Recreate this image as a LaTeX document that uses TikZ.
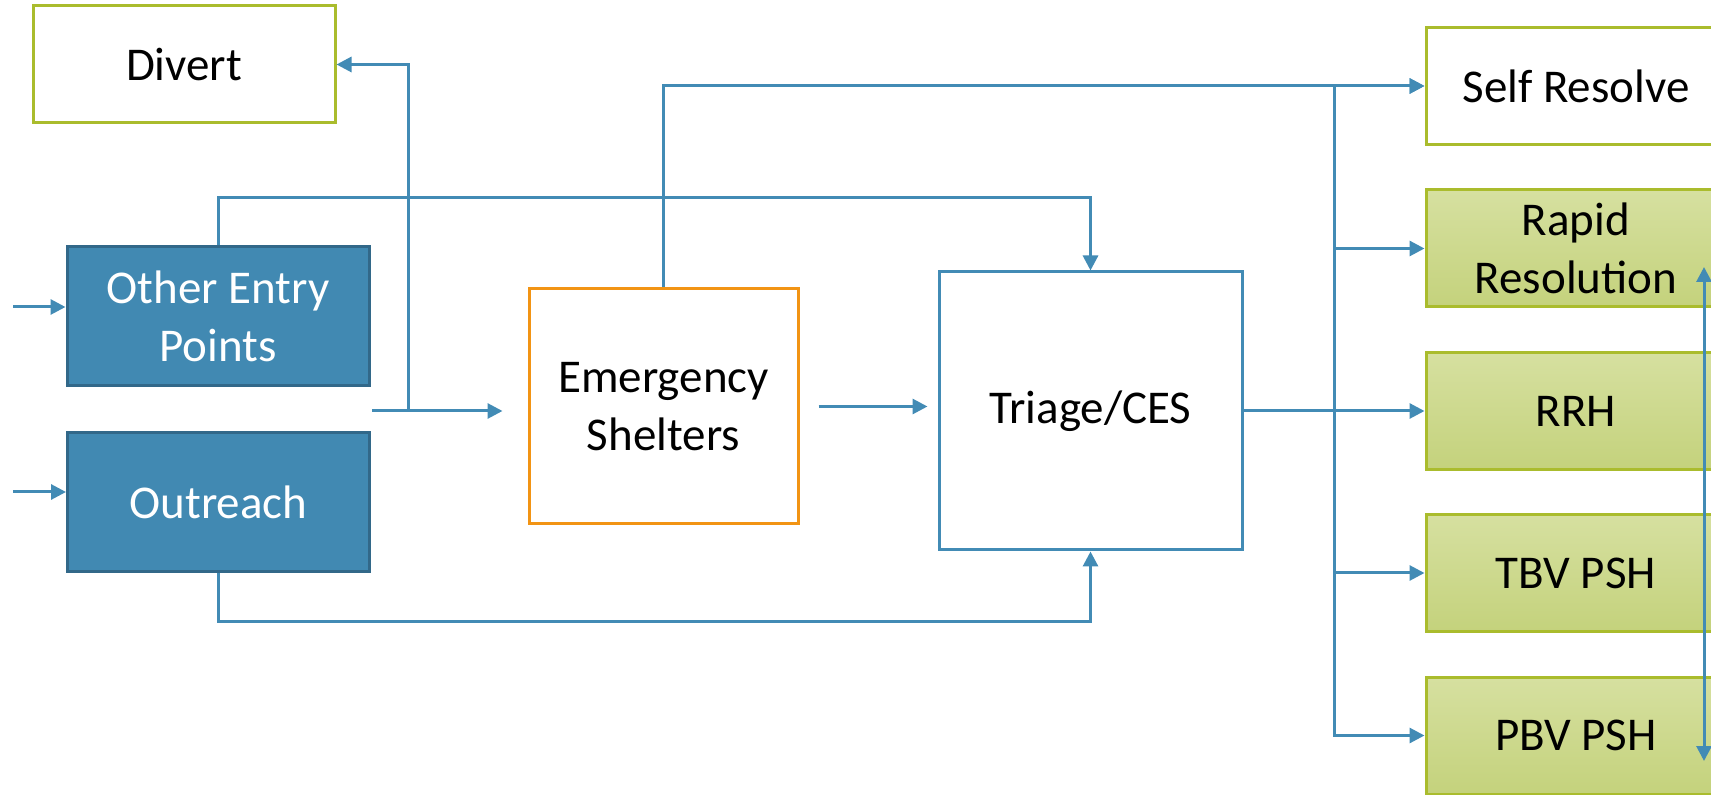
\documentclass[tikz,border=0pt]{standalone}
\usepackage{fontspec}
\setmainfont{Carlito}
\usetikzlibrary{arrows.meta}
\definecolor{flowblue}{RGB}{66,139,181}
\definecolor{entryblue}{RGB}{65,137,178}
\definecolor{entryedge}{RGB}{50,104,137}
\definecolor{leafedge}{RGB}{170,188,45}
\definecolor{leaftop}{RGB}{214,224,160}
\definecolor{leafbot}{RGB}{196,210,124}
\definecolor{shelter}{RGB}{242,148,20}

\begin{document}
\begin{tikzpicture}[x=0.5pt, y=-0.5pt, >={Triangle[length=7.5pt,width=7.5pt]},
  font=\fontsize{23.5}{29}\selectfont,
  box/.style={draw, line width=1.5pt, align=center, inner sep=0pt,
    minimum width=151pt, minimum height=58.5pt},
  entry/.style={box, fill=entryblue, draw=entryedge, text=white, minimum height=69.5pt},
  exit/.style={box, draw=leafedge},
  service/.style={box, draw=leafedge, top color=leaftop, bottom color=leafbot,
    minimum width=150pt},
  flow/.style={draw=flowblue, line width=1.5pt}]
  \path[use as bounding box, clip] (0,0) rectangle (1711,795);
  % front door and first stops
  \node[exit] (divert) at (184,64.5) {Divert};
  \node[entry] (oep) at (218,316.5) {Other Entry\\Points};
  \node[entry] (outreach) at (218.5,502.5) {Outreach};
  \node[box, draw=shelter, minimum width=134.5pt, minimum height=117.5pt] (es) at (663.5,406.5) {Emergency\\Shelters};
  \node[box, draw=flowblue, minimum width=151.5pt, minimum height=139pt] (triage) at (1090.5,411) {Triage/CES};
  % housing outcomes
  \node[exit, minimum width=150pt] (self) at (1576,86) {Self Resolve};
  \node[service] (rapid) at (1576,248.5) {Rapid\\Resolution};
  \node[service] (rrh) at (1576,411) {RRH};
  \node[service] (tbv) at (1576,573) {TBV PSH};
  \node[service] (pbv) at (1576,735.5) {PBV PSH};
  % entry feeds
  \coordinate (inA) at (13,307);
  \coordinate (inB) at (13,492);
  \draw[flow,->] (inA) -- (inA -| oep.west);
  \draw[flow,->] (inB) -- (inB -| outreach.west);
  % merge into shelters, branch up to divert
  \coordinate (mrg) at (372,411);
  \coordinate (jn) at (408,411);
  \draw[flow,->,shorten >=12.5pt] (mrg) -- (mrg -| es.west);
  \draw[flow,->] (jn) |- (divert.east);
  % straight to triage
  \draw[flow,->] (oep.north) -- ++(0,-48) -| (triage.north);
  \draw[flow,->] (outreach.south) -- ++(0,48) -| (triage.south);
  % out of shelters
  \draw[flow,->] (es.north) |- (self.west);
  \draw[flow,->,shorten <=9.5pt,shorten >=5pt] (es.east) -- (es.east -| triage.west);
  % triage to housing bus
  \coordinate (bus) at (1334,411);
  \draw[flow] (triage.east) -- (bus);
  \foreach \n in {self,rapid,rrh,tbv,pbv} \draw[flow,->] (bus) |- (\n.west);
  % rapid resolution <-> pbv
  \coordinate (lnkA) at (1704,267);
  \coordinate (lnkB) at (1704,761);
  \draw[flow,<->] (lnkA) -- (lnkB);
\end{tikzpicture}
\end{document}
